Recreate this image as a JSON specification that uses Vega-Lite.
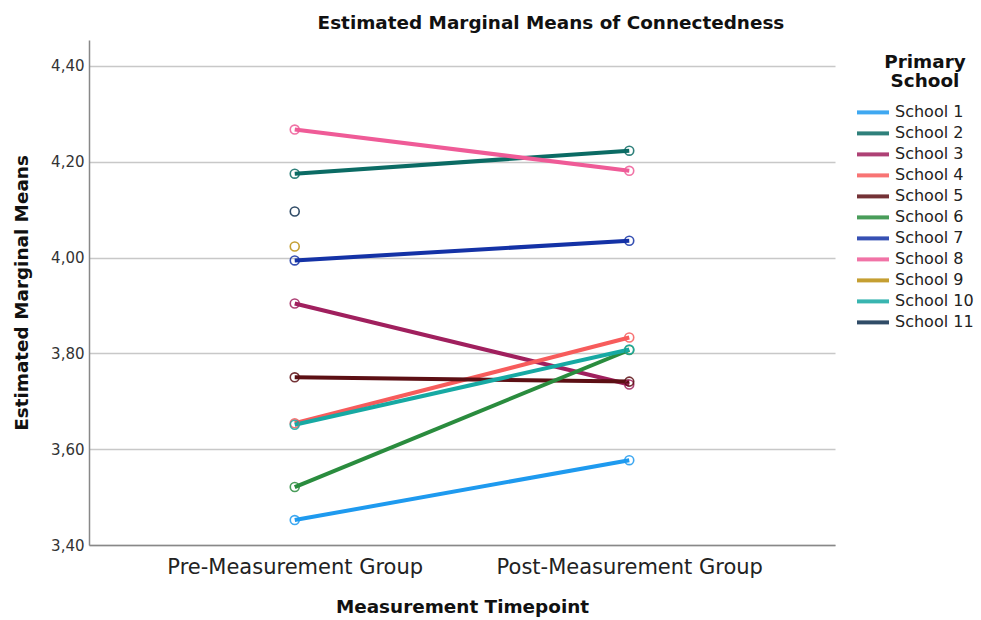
{
  "$schema": "https://vega.github.io/schema/vega-lite/v6.json",
  "width": 746,
  "height": 505,
  "autosize": {"type": "none"},
  "padding": {"left": 89, "top": 40, "right": 146, "bottom": 75},
  "background": "white",
  "title": {
    "text": "Estimated Marginal Means of Connectedness",
    "font": "DejaVu Sans",
    "fontSize": 18.4,
    "fontWeight": "bold",
    "color": "#111",
    "anchor": "start",
    "dx": 305,
    "offset": 8
  },
  "data": {
    "values": [
      {"school": "School 1", "time": "Pre-Measurement Group", "mean": 3.452},
      {"school": "School 1", "time": "Post-Measurement Group", "mean": 3.577},
      {"school": "School 2", "time": "Pre-Measurement Group", "mean": 4.175},
      {"school": "School 2", "time": "Post-Measurement Group", "mean": 4.223},
      {"school": "School 3", "time": "Pre-Measurement Group", "mean": 3.904},
      {"school": "School 3", "time": "Post-Measurement Group", "mean": 3.735},
      {"school": "School 4", "time": "Pre-Measurement Group", "mean": 3.654},
      {"school": "School 4", "time": "Post-Measurement Group", "mean": 3.833},
      {"school": "School 5", "time": "Pre-Measurement Group", "mean": 3.750},
      {"school": "School 5", "time": "Post-Measurement Group", "mean": 3.741},
      {"school": "School 6", "time": "Pre-Measurement Group", "mean": 3.521},
      {"school": "School 6", "time": "Post-Measurement Group", "mean": 3.807},
      {"school": "School 7", "time": "Pre-Measurement Group", "mean": 3.994},
      {"school": "School 7", "time": "Post-Measurement Group", "mean": 4.035},
      {"school": "School 8", "time": "Pre-Measurement Group", "mean": 4.267},
      {"school": "School 8", "time": "Post-Measurement Group", "mean": 4.181},
      {"school": "School 9", "time": "Pre-Measurement Group", "mean": 4.023},
      {"school": "School 10", "time": "Pre-Measurement Group", "mean": 3.651},
      {"school": "School 10", "time": "Post-Measurement Group", "mean": 3.808},
      {"school": "School 11", "time": "Pre-Measurement Group", "mean": 4.096}
    ]
  },
  "encoding": {
    "x": {
      "field": "time",
      "type": "ordinal",
      "sort": ["Pre-Measurement Group", "Post-Measurement Group"],
      "scale": {"type": "point", "padding": 0.615},
      "axis": {
        "title": "Measurement Timepoint",
        "titleFont": "DejaVu Sans",
        "titleFontSize": 18.4,
        "titleFontWeight": "bold",
        "titleColor": "#111",
        "titlePadding": 20,
        "labelFont": "DejaVu Sans",
        "labelFontSize": 21,
        "labelColor": "#222",
        "labelPadding": 11,
        "labelAngle": 0,
        "labelLimit": 0,
        "ticks": false,
        "grid": false,
        "domainColor": "#888",
        "domainWidth": 1.5
      }
    },
    "y": {
      "field": "mean",
      "type": "quantitative",
      "scale": {"domain": [3.4, 4.454], "nice": false, "zero": false},
      "axis": {
        "title": "Estimated Marginal Means",
        "values": [3.4, 3.6, 3.8, 4.0, 4.2, 4.4],
        "labelExpr": "replace(format(datum.value, '.2f'), '.', ',')",
        "titleFont": "DejaVu Sans",
        "titleFontSize": 18.4,
        "titleFontWeight": "bold",
        "titleColor": "#111",
        "titlePadding": 19,
        "labelFont": "DejaVu Sans",
        "labelFontSize": 15,
        "labelColor": "#333",
        "labelPadding": 5,
        "ticks": false,
        "grid": true,
        "gridColor": "#c8c8c8",
        "gridWidth": 1.5,
        "domainColor": "#888",
        "domainWidth": 1.5
      }
    },
    "color": {
      "field": "school",
      "type": "nominal",
      "scale": {
        "domain": ["School 1", "School 2", "School 3", "School 4", "School 5", "School 6", "School 7", "School 8", "School 9", "School 10", "School 11"],
        "range": ["#1e9aef", "#0b6b64", "#a0205e", "#f75c5c", "#5c0f14", "#2a8c3e", "#1432a6", "#ef5b97", "#bb8f0f", "#17a9a3", "#0d2d4d"]
      },
      "legend": {
        "orient": "none",
        "legendX": 787,
        "legendY": 13,
        "title": ["Primary", "School"],
        "titleFont": "DejaVu Sans",
        "titleFontSize": 18.4,
        "titleFontWeight": "bold",
        "titleColor": "#111",
        "titleAnchor": "middle",
        "titleAlign": "center",
        "titleLineHeight": 19,
        "titlePadding": 14,
        "symbolType": "M-5.4,0H1",
        "symbolSize": 100,
        "symbolStrokeWidth": 4,
        "labelFont": "DejaVu Sans",
        "labelFontSize": 16,
        "labelColor": "#222",
        "labelOffset": 3,
        "rowPadding": 5,
        "padding": 0
      }
    }
  },
  "layer": [
    {
      "mark": {"type": "line", "strokeWidth": 4},
      "encoding": {"detail": {"field": "school"}}
    },
    {
      "mark": {"type": "point", "filled": false, "size": 80, "strokeWidth": 1.6, "opacity": 0.85}
    }
  ],
  "config": {
    "view": {"stroke": null}
  }
}
